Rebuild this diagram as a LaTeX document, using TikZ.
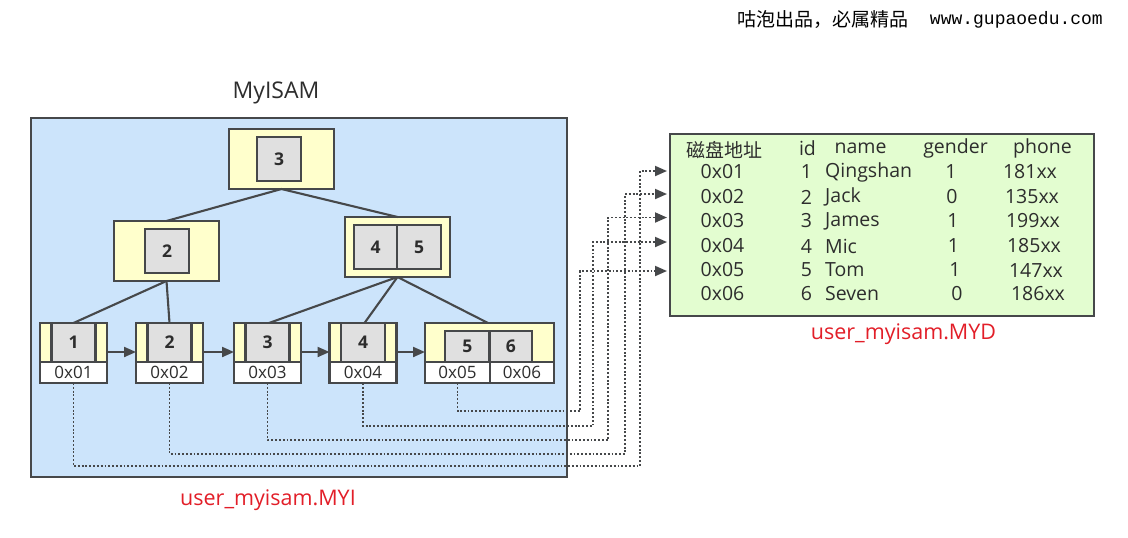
\documentclass[tikz,border=0pt]{standalone}
\usepackage{fontspec}
\setmainfont{Open Sans}
\newfontfamily\cjk{Noto Sans CJK SC}
\newfontfamily\urlfont{Liberation Mono}
\usetikzlibrary{arrows.meta,calc}
\definecolor{bluefill}{RGB}{204,228,251}
\definecolor{yel}{RGB}{255,255,204}
\definecolor{gry}{RGB}{224,224,224}
\definecolor{grn}{RGB}{227,253,208}
\definecolor{bord}{RGB}{70,72,74}
\definecolor{txt}{RGB}{45,45,45}
\definecolor{redtxt}{RGB}{226,30,40}
\begin{document}
\begin{tikzpicture}[x=1pt,y=-1pt,
  box/.style={draw=bord,line width=2.1pt,inner sep=0pt,outer sep=0pt},
  bluebox/.style={box,fill=bluefill},
  ybox/.style={box,fill=yel},
  gbox/.style={box,fill=gry,text=txt,font=\fontsize{17.5}{20}\selectfont\bfseries},
  wbox/.style={box,fill=white,text=txt,font=\fontsize{17}{20}\selectfont},
  greenbox/.style={box,fill=grn},
  edge/.style={draw=bord,line width=2.1pt},
  nextarrow/.style={draw=bord,line width=2.1pt,-{Triangle[length=12pt,width=10pt]}},
  dotline/.style={draw=bord,line width=1.9pt,dash pattern=on 1.9pt off 1.9pt,-{Triangle[length=12pt,width=10pt]}},
  cell/.style={text=txt,font=\fontsize{19.5}{23}\selectfont,inner sep=0pt},
  redlabel/.style={text=redtxt,font=\fontsize{21.5}{25}\selectfont,inner sep=0pt}
]
\useasboundingbox (0,0) rectangle (1128,538);

% top-right caption
\node[inner sep=0pt,anchor=west,text=black,font=\fontsize{19}{22}\selectfont\cjk] (cap1) at (737,20) {咕泡出品，必属精品};
\node[inner sep=0pt,anchor=east,text=black,font=\fontsize{18}{20}\selectfont\urlfont] (cap2) at (1103,20) {www.gupaoedu.com};

% MyISAM index file
\node[text=txt,font=\fontsize{23}{27}\selectfont,inner sep=0pt] (title) at (276,93) {MyISAM};
\node[bluebox,minimum width=536,minimum height=359] (myi) at (299,297.5) {};
\node[redlabel] (myilab) at (268,500) {user\_myisam.MYI};

% root
\node[ybox,minimum width=105,minimum height=60] (root) at (281.5,159) {};
\node[gbox,minimum width=44,minimum height=44] (root3) at (279,159) {3};
% level 2
\node[ybox,minimum width=105,minimum height=60] (n2) at (166.5,251) {};
\node[gbox,minimum width=44,minimum height=44] (n2k) at (167,251) {2};
\node[ybox,minimum width=105,minimum height=60] (n45) at (397.5,247) {};
\node[gbox,minimum width=43,minimum height=44] (n45a) at (375.5,247) {4};
\node[gbox,minimum width=44,minimum height=44] (n45b) at (419,247) {5};

% leaves
\foreach \i/\x/\v in {1/73.5/1,2/169.5/2,3/267.5/3,4/363/4}{
  \node[ybox,minimum width=67,minimum height=39] (l\i) at (\x,342.5) {};
  \node[gbox,minimum width=44,minimum height=39] (lk\i) at (\x,342.5) {\raisebox{-3pt}{\v}};
  \node[wbox,minimum width=67,minimum height=21] (a\i) at (\x,372.5) {0x0\v};
}
\node[ybox,minimum width=129,minimum height=39] (l5) at (489.5,342.5) {};
\node[gbox,minimum width=44.5,minimum height=31] (lk5) at (467.25,346.5) {\raisebox{-6pt}{5}};
\node[gbox,minimum width=42.5,minimum height=31] (lk6) at (510.75,346.5) {\raisebox{-6pt}{6}};
\node[wbox,minimum width=65,minimum height=21] (a5) at (457.5,372.5) {0x05};
\node[wbox,minimum width=64,minimum height=21] (a6) at (522,372.5) {0x06};

% tree edges
\draw[edge] (root.south) -- (n2.north);
\draw[edge] (root.south) -- (n45.north);
\draw[edge] (n2.south) -- (l1.north);
\draw[edge] (n2.south) -- (l2.north);
\draw[edge] (n45.south) -- ([xshift=1.5pt]l3.north);
\draw[edge] (n45.south) -- ([xshift=1.5pt]l4.north);
\draw[edge] (n45.south) -- ([xshift=-1.5pt]l5.north);

% leaf links
\draw[nextarrow] ([yshift=-9.5pt]l1.east) -- ([yshift=-9.5pt]l2.west);
\draw[nextarrow] ([yshift=-9.5pt]l2.east) -- ([yshift=-9.5pt]l3.west);
\draw[nextarrow] ([yshift=-9.5pt]l3.east) -- ([yshift=-9.5pt]l4.west);
\draw[nextarrow] ([yshift=-9.5pt]l4.east) -- ([yshift=-9.5pt]l5.west);

% data file
\node[greenbox,minimum width=424,minimum height=182] (myd) at (882,225) {};
\node[redlabel] (mydlab) at (903.5,334) {user\_myisam.MYD};

% header
\node[cell,font=\fontsize{19}{22}\selectfont\cjk] (h1) at (724.5,150) {磁盘地址};
\node[cell] (h2) at (807.5,148) {id};
\node[cell] (h3) at (860.5,148) {name};
\node[cell] (h4) at (955.5,148) {gender};
\node[cell] (h5) at (1042.5,148) {phone};

% rows
\foreach \r/\y/\nm/\g/\gx/\ph/\px in {
  1/172/Qingshan/1/951/181xx/1030,
  2/197/Jack/0/952/135xx/1032,
  3/221/James/1/953/199xx/1033,
  4/246/Mic/1/953.5/185xx/1034,
  5/270/Tom/1/955/147xx/1036,
  6/294/Seven/0/957/186xx/1038}{
  \node[cell] (ad\r) at (722.5,\y) {0x0\r};
  \node[cell] (id\r) at (806.5,\y) {\r};
  \node[cell,anchor=west] (nm\r) at (825,\y) {\nm};
  \node[cell] (gd\r) at (\gx,\y) {\g};
  \node[cell] (ph\r) at (\px,\y) {\ph};
}

% pointer coordinates
\coordinate (v1) at (640,466);
\coordinate (v2) at (625,454);
\coordinate (v3) at (608,440);
\coordinate (v4) at (593,426);
\coordinate (v5) at (580,411);
\coordinate (e1) at (667,171);
\coordinate (e2) at (667,194);
\coordinate (e3) at (667,217.5);
\coordinate (e4) at (667,242);
\coordinate (e5) at (667,271);

\draw[dotline] (a1.south) |- (v1) |- (e1);
\draw[dotline] (a2.south) |- (v2) |- (e2);
\draw[dotline] (a3.south) |- (v3) |- (e3);
\draw[dotline] (a4.south) |- (v4) |- (e4);
\draw[dotline] (a5.south) |- (v5) |- (e5);
\end{tikzpicture}
\end{document}
